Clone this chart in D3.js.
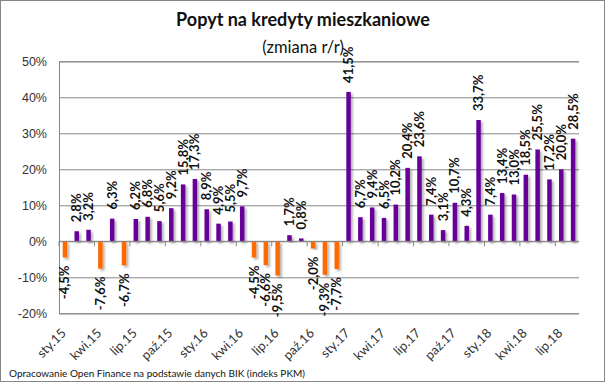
<!DOCTYPE html>
<html>
<head>
<meta charset="UTF-8">
<title>Popyt na kredyty mieszkaniowe</title>
<script src="https://d3js.org/d3.v7.min.js"></script>
<style>
  body { margin: 0; background: #fff; }
  svg { font-family: Lato, "Open Sans", sans-serif; }
</style>
</head>
<body>
<div id="chart"></div>
<script>
// months Jan 2015 - Aug 2018
const monthNames = ["sty", "lut", "mar", "kwi", "maj", "cze", "lip", "sie", "wrz", "paź", "lis", "gru"];
const months = [];
for (let y = 15; y <= 18; y++) {
  for (let m = 0; m < 12; m++) {
    if (y === 18 && m > 7) break;
    months.push(monthNames[m] + "." + y);
  }
}

// y/y change, %
const values = [
  -4.5, 2.8, 3.2, -7.6, 6.3, -6.7, 6.2, 6.8, 5.6, 9.2, 15.8, 17.3,
  8.9, 4.9, 5.5, 9.7, -4.5, -6.6, -9.5, 1.7, 0.8, -2.0, -9.3, -7.7,
  41.5, 6.7, 9.4, 6.5, 10.2, 20.4, 23.6, 7.4, 3.1, 10.7, 4.3, 33.7,
  7.4, 13.4, 13.0, 18.5, 25.5, 17.2, 20.0, 28.5
];

const yTicks = [-20, -10, 0, 10, 20, 30, 40, 50];

const width = 605, height = 382;
const margin = {top: 61, right: 26, bottom: 69, left: 59};

const svg = d3.select("#chart").append("svg")
  .attr("width", width)
  .attr("height", height);

// shadow for bars
const defs = svg.append("defs");
const f = defs.append("filter").attr("id", "shadow")
  .attr("x", "-50%").attr("y", "-10%").attr("width", "250%").attr("height", "130%");
f.append("feDropShadow")
  .attr("dx", 2).attr("dy", 2).attr("stdDeviation", 1.2)
  .attr("flood-color", "#000").attr("flood-opacity", 0.3);

// outer border
svg.append("rect")
  .attr("x", 0.5).attr("y", 0.5)
  .attr("width", width - 1).attr("height", height - 1)
  .attr("fill", "none").attr("stroke", "#868686");

const x = d3.scaleBand()
  .domain(months)
  .range([margin.left, width - margin.right])
  .paddingInner(0.62)
  .paddingOuter(0.31);

const y = d3.scaleLinear()
  .domain([-20, 50])
  .range([height - margin.bottom + 0.3, margin.top + 0.3]);

// gridlines + y labels
const yAxis = g => g
  .attr("transform", `translate(${margin.left},0)`)
  .call(d3.axisLeft(y).tickValues(yTicks).tickSize(-(width - margin.left - margin.right))
    .tickFormat(d => d + "%").tickPadding(12))
  .call(g => g.select(".domain").attr("stroke", "#868686"))
  .call(g => g.selectAll(".tick line").attr("stroke", "#868686"))
  .call(g => g.selectAll(".tick text")
    .attr("font-size", 12.5).attr("fill", "#333"));
svg.append("g").call(yAxis);

// bars
svg.append("g")
  .selectAll("rect")
  .data(values)
  .join("rect")
  .attr("x", (d, i) => x(months[i]))
  .attr("width", x.bandwidth())
  .attr("y", d => y(Math.max(0, d)))
  .attr("height", d => Math.abs(y(d) - y(0)))
  .attr("fill", d => d < 0 ? "#ff6a00" : "#660099")
  .attr("filter", "url(#shadow)");

// x axis at zero
const step = x.step();
const zeroY = y(0);
const tickIdx = d3.range(0, months.length + 1, 3);
svg.append("line")
  .attr("x1", margin.left).attr("x2", width - margin.right)
  .attr("y1", zeroY).attr("y2", zeroY)
  .attr("stroke", "#868686");
svg.append("g")
  .selectAll("line")
  .data(tickIdx)
  .join("line")
  .attr("x1", i => margin.left + i * step)
  .attr("x2", i => margin.left + i * step)
  .attr("y1", zeroY).attr("y2", zeroY + 5)
  .attr("stroke", "#868686");

// category labels every 3 months
svg.append("g")
  .selectAll("text")
  .data(months.filter((m, i) => i % 3 === 0))
  .join("text")
  .attr("transform", m => `translate(${x(m) + x.bandwidth() / 2 + 2},${height - margin.bottom + 21}) rotate(-45)`)
  .attr("text-anchor", "end")
  .attr("font-size", 13)
  .attr("fill", "#333")
  .text(m => m);

// value labels
const fmt = v => v.toFixed(1).replace(".", ",") + "%";
svg.append("g")
  .selectAll("text")
  .data(values)
  .join("text")
  .attr("transform", (d, i) => {
    const cx = x(months[i]) + x.bandwidth() / 2 + 4.5;
    const yy = d < 0 ? y(d) + 8 : y(d) - 9;
    return `translate(${cx},${yy}) rotate(-90)`;
  })
  .attr("text-anchor", d => d < 0 ? "end" : "start")
  .attr("font-size", 13)
  .attr("font-weight", "bold")
  .attr("fill", "#111")
  .text(fmt);

// titles
svg.append("text")
  .attr("x", 303).attr("y", 26)
  .attr("text-anchor", "middle")
  .attr("font-size", 18).attr("font-weight", "bold")
  .attr("fill", "#111")
  .text("Popyt na kredyty mieszkaniowe");
svg.append("text")
  .attr("x", 303).attr("y", 53)
  .attr("text-anchor", "middle")
  .attr("font-size", 16.5)
  .attr("fill", "#111")
  .text("(zmiana r/r)");

svg.append("text")
  .attr("x", 9).attr("y", 377)
  .attr("font-size", 10)
  .attr("fill", "#111")
  .text("Opracowanie Open Finance na podstawie danych BIK (indeks PKM)");
</script>
</body>
</html>
